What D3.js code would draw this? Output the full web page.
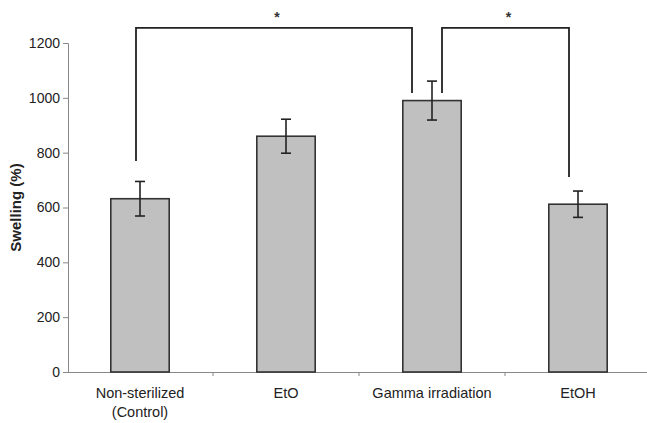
<!DOCTYPE html>
<html>
<head>
<meta charset="utf-8">
<script src="https://cdn.jsdelivr.net/npm/d3@7"></script>
<style>
  body { margin: 0; background: #fff; }
  svg { font-family: "Liberation Sans", Arial, sans-serif; }
  .tick text { font-size: 14px; fill: #222; }
</style>
</head>
<body>
<svg width="647" height="423"></svg>
<script>
var categories = ["Non-sterilized\n(Control)", "EtO", "Gamma irradiation", "EtOH"];
var swelling = [632, 860, 990, 612];
var errors = [63, 62, 71, 48];
var yTicks = [0, 200, 400, 600, 800, 1000, 1200];
// significance brackets: from / to category index, end heights and top in data units
var brackets = [
    {from: 0, to: 2, fromEnd: 770, toEnd: 1018, top: 1255, dxFrom: -4, dxTo: -20, label: "*"},
    {from: 2, to: 3, fromEnd: 1018, toEnd: 711, top: 1255, dxFrom: 10, dxTo: -9, label: "*"}
];

var svg = d3.select("svg"),
    margin = {top: 43, right: 0, bottom: 51, left: 67},
    width = 584,
    height = +svg.attr("height") - margin.top - margin.bottom;
var g = svg.append("g").attr("transform", "translate(" + margin.left + "," + margin.top + ")");

var x = d3.scaleBand()
    .domain(categories)
    .range([0, width])
    .padding(0);

var y = d3.scaleLinear()
    .domain([0, 1200])
    .range([height, 0]);

var barW = x.bandwidth() * 0.4;
var cx = function (i) { return x(categories[i]) + x.bandwidth() / 2; };

// y axis
var yAxis = g.append("g")
    .attr("transform", "translate(1,0)")
    .call(d3.axisLeft(y).tickValues(yTicks).tickFormat(d3.format("d")).tickSize(5).tickPadding(3));
yAxis.select(".domain").attr("stroke", "#888");
yAxis.selectAll(".tick line").attr("stroke", "#888");

// x axis
var xAxis = g.append("g")
    .attr("transform", "translate(0," + height + ")")
    .call(d3.axisBottom(x).tickSize(0).tickFormat(""));
xAxis.select(".domain").attr("stroke", "#888").attr("d", "M-4,0.5H" + width);
g.append("g").selectAll("line")
    .data(categories.slice(1))
    .enter().append("line")
    .attr("x1", function (d) { return x(d); })
    .attr("x2", function (d) { return x(d); })
    .attr("y1", height)
    .attr("y2", height + 4)
    .attr("stroke", "#888");

// category labels
var lab = g.append("g").selectAll("text")
    .data(categories)
    .enter().append("text")
    .attr("x", function (d) { return x(d) + x.bandwidth() / 2; })
    .attr("y", height + 26)
    .attr("text-anchor", "middle")
    .style("font-size", "14.5px")
    .style("fill", "#222");
lab.selectAll("tspan")
    .data(function (d) { return d.split("\n"); })
    .enter().append("tspan")
    .attr("x", function () { return d3.select(this.parentNode).attr("x"); })
    .attr("dy", function (d, i) { return i ? 19 : 0; })
    .text(function (d) { return d; });

// bars
g.selectAll(".bar")
    .data(swelling)
    .enter().append("rect")
    .attr("class", "bar")
    .attr("x", function (d, i) { return cx(i) - barW / 2; })
    .attr("y", function (d) { return y(d); })
    .attr("width", barW)
    .attr("height", function (d) { return height - y(d); })
    .attr("fill", "#c0c0c0")
    .attr("stroke", "#333")
    .attr("stroke-width", 1.6);

// error bars
var eb = g.selectAll(".err")
    .data(swelling)
    .enter().append("g")
    .attr("class", "err")
    .attr("stroke", "#222")
    .attr("stroke-width", 1.6);
eb.append("line")
    .attr("x1", function (d, i) { return cx(i); })
    .attr("x2", function (d, i) { return cx(i); })
    .attr("y1", function (d, i) { return y(d + errors[i]); })
    .attr("y2", function (d, i) { return y(d - errors[i]); });
eb.append("line")
    .attr("x1", function (d, i) { return cx(i) - 5; })
    .attr("x2", function (d, i) { return cx(i) + 5; })
    .attr("y1", function (d, i) { return y(d + errors[i]); })
    .attr("y2", function (d, i) { return y(d + errors[i]); });
eb.append("line")
    .attr("x1", function (d, i) { return cx(i) - 5; })
    .attr("x2", function (d, i) { return cx(i) + 5; })
    .attr("y1", function (d, i) { return y(d - errors[i]); })
    .attr("y2", function (d, i) { return y(d - errors[i]); });

// significance brackets
brackets.forEach(function (b) {
    var x1 = cx(b.from) + b.dxFrom, x2 = cx(b.to) + b.dxTo;
    g.append("path")
        .attr("d", "M" + x1 + "," + y(b.fromEnd) + "V" + y(b.top) + "H" + x2 + "V" + y(b.toEnd))
        .attr("fill", "none")
        .attr("stroke", "#222")
        .attr("stroke-width", 1.8);
    g.append("text")
        .attr("x", (x1 + x2) / 2 + 3)
        .attr("y", y(b.top) - 6)
        .attr("text-anchor", "middle")
        .style("font-size", "14px")
        .style("font-weight", "bold")
        .style("fill", "#333")
        .text(b.label);
});

// y axis title
svg.append("text")
    .attr("transform", "translate(21," + (margin.top + height / 2) + ") rotate(-90)")
    .attr("text-anchor", "middle")
    .style("font-size", "15px")
    .style("font-weight", "bold")
    .style("fill", "#222")
    .text("Swelling (%)");
</script>
</body>
</html>
